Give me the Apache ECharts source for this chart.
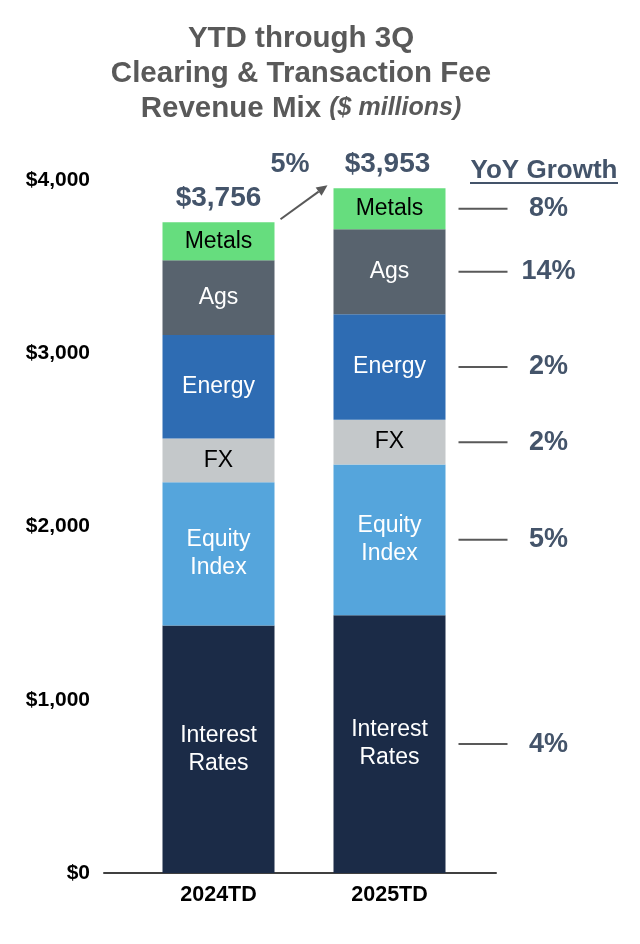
<!DOCTYPE html>
<html>
<head>
<meta charset="utf-8">
<script src="https://cdn.jsdelivr.net/npm/echarts@6/dist/echarts.min.js"></script>
<style>html,body{margin:0;padding:0;background:#fff;}#c{width:640px;height:944px;}</style>
</head>
<body>
<div id="c"></div>
<script>
const categories = ['2024TD', '2025TD'];
const segmentNames = ['Interest Rates', 'Equity Index', 'FX', 'Energy', 'Ags', 'Metals'];
const segmentLabels = ['Interest\nRates', 'Equity\nIndex', 'FX', 'Energy', 'Ags', 'Metals'];
const interestRates = [1428, 1488];
const equityIndex = [827, 870];
const fx = [253, 258];
const energy = [597, 609];
const ags = [432, 491];
const metals = [219, 237];
const totals = [3756, 3953];
const totalLabels = ['$3,756', '$3,953'];
const yoyGrowth = ['4%', '5%', '2%', '2%', '14%', '8%'];
const totalGrowth = '5%';
const yTicks = [0, 1000, 2000, 3000, 4000];

const segValues = [interestRates, equityIndex, fx, energy, ags, metals];
const segColors = ['#1b2b47', '#55a5dc', '#c4c8ca', '#2e6cb3', '#58636e', '#66dd7e'];
const segTextColors = ['#ffffff', '#ffffff', '#000000', '#ffffff', '#ffffff', '#000000'];
const FONT = "'Liberation Sans', Arial, sans-serif";
const SLATE = '#44546a';

const chart = echarts.init(document.getElementById('c'));

const barSeries = () => segmentNames.map((name, i) => ({
  name: name,
  type: 'bar',
  stack: 'total',
  barWidth: 112,
  data: segValues[i],
  itemStyle: { color: segColors[i] },
  label: {
    show: true,
    position: 'inside',
    formatter: segmentLabels[i],
    color: segTextColors[i],
    fontFamily: FONT,
    fontSize: 23,
    lineHeight: 28
  },
  silent: true
}));

// growth annotation data: midpoint of each 2025 segment
const growthData = [];
let cum = 0;
for (let i = 0; i < segValues.length; i++) {
  const v = segValues[i][1];
  growthData.push([1, cum + v / 2, yoyGrowth[i]]);
  cum += v;
}

const series = barSeries().concat([
  {
    type: 'custom',
    name: 'growth',
    clip: false,
    silent: true,
    data: growthData,
    renderItem: function (params, api) {
      const p = api.coord([api.value(0), api.value(1)]);
      return {
        type: 'group',
        children: [
          { type: 'line', shape: { x1: p[0] + 69, y1: p[1], x2: p[0] + 118, y2: p[1] },
            style: { stroke: '#595959', lineWidth: 2 } },
          { type: 'text', x: p[0] + 159, y: p[1],
            style: { text: growthData[params.dataIndex][2], fill: SLATE, font: 'bold 27px ' + FONT,
                     textAlign: 'center', textVerticalAlign: 'middle' } }
        ]
      };
    }
  },
  {
    type: 'custom',
    name: 'totals',
    clip: false,
    silent: true,
    data: totals.map((t, i) => [i, t]),
    renderItem: function (params, api) {
      const p = api.coord([api.value(0), api.value(1)]);
      return { type: 'text', x: p[0] - 2 * params.dataIndex, y: p[1] - 24,
        style: { text: totalLabels[params.dataIndex], fill: SLATE, font: 'bold 28px ' + FONT,
                 textAlign: 'center', textVerticalAlign: 'middle' } };
    }
  },
  {
    type: 'custom',
    name: 'arrow',
    clip: false,
    silent: true,
    data: [[0, totals[0], 1, totals[1]]],
    renderItem: function (params, api) {
      const a = api.coord([api.value(0), api.value(1)]);
      const b = api.coord([api.value(2), api.value(3)]);
      const x1 = a[0] + 62, y1 = a[1] - 3, x2 = b[0] - 62, y2 = b[1] - 3;
      const ang = Math.atan2(y2 - y1, x2 - x1);
      const L = 11, W = 5;
      const bx = x2 - L * Math.cos(ang), by = y2 - L * Math.sin(ang);
      const px = -Math.sin(ang) * W, py = Math.cos(ang) * W;
      return {
        type: 'group',
        children: [
          { type: 'line', shape: { x1: x1, y1: y1, x2: bx, y2: by }, style: { stroke: '#595959', lineWidth: 2 } },
          { type: 'polygon', shape: { points: [[x2, y2], [bx + px, by + py], [bx - px, by - py]] }, style: { fill: '#595959' } },
          { type: 'text', x: (a[0] + b[0]) / 2 - 14, y: b[1] - 24,
            style: { text: totalGrowth, fill: SLATE, font: 'bold 27px ' + FONT, textAlign: 'center', textVerticalAlign: 'middle' } }
        ]
      };
    }
  }
]);

chart.setOption({
  animation: false,
  backgroundColor: '#ffffff',
  graphic: [
    { type: 'text', x: 301, y: 21,
      style: {
        text: '{b|YTD through 3Q}\n{b|Clearing & Transaction Fee}\n{b|Revenue Mix }{i|($ millions)}',
        textAlign: 'center',
        rich: {
          b: { font: 'bold 29.5px ' + FONT, fill: '#595959', lineHeight: 35 },
          i: { font: 'italic bold 25px ' + FONT, fill: '#595959', lineHeight: 35 }
        }
      }
    },
    { type: 'group', children: [
      { type: 'text', x: 544, y: 171,
        style: { text: 'YoY Growth', font: 'bold 26px ' + FONT, fill: SLATE, textAlign: 'center', textVerticalAlign: 'middle' } },
      { type: 'line', shape: { x1: 470, y1: 183, x2: 618, y2: 183 }, style: { stroke: SLATE, lineWidth: 2 } }
    ] }
  ],
  grid: [
    { left: 133, right: 165, top: 180, bottom: 71 },
    { left: 104, right: 144, top: 180, bottom: 71 }
  ],
  xAxis: [
    { type: 'category', gridIndex: 0, data: categories,
      axisLine: { show: false }, axisTick: { show: false },
      axisLabel: { color: '#000', fontFamily: FONT, fontWeight: 'bold', fontSize: 21.5, margin: 11 } },
    { type: 'category', gridIndex: 1, data: [''],
      axisLine: { show: true, lineStyle: { color: '#404040', width: 2 } },
      axisTick: { show: false }, axisLabel: { show: false } }
  ],
  yAxis: [
    { type: 'value', gridIndex: 0, min: yTicks[0], max: yTicks[yTicks.length - 1], interval: 1000,
      splitLine: { show: false }, axisLine: { show: false }, axisTick: { show: false },
      axisLabel: { color: '#000', fontFamily: FONT, fontWeight: 'bold', fontSize: 21, margin: 43,
        formatter: v => '$' + v.toLocaleString('en-US') } },
    { type: 'value', gridIndex: 1, min: 0, max: 4000, show: false }
  ],
  series: series
});
</script>
</body>
</html>
